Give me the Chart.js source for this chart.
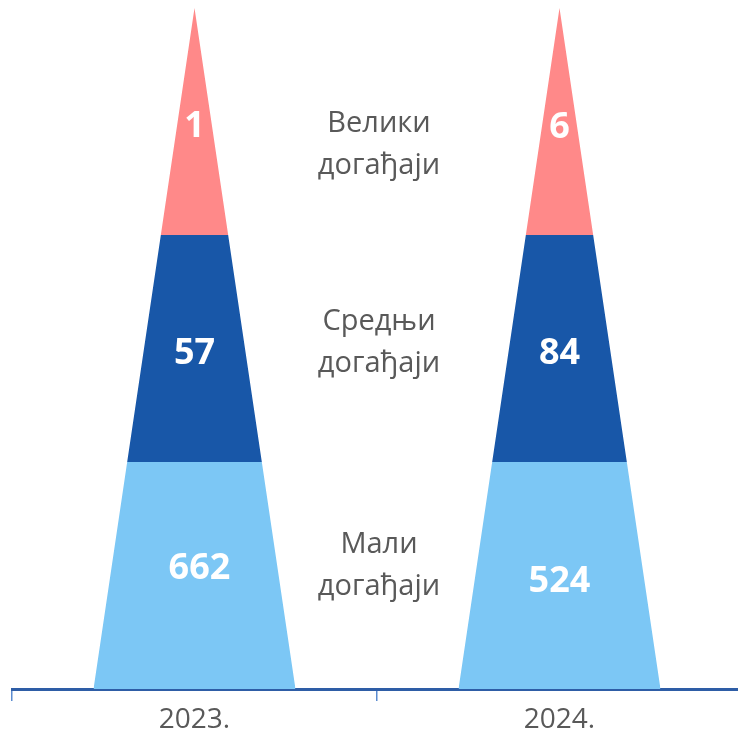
<!DOCTYPE html>
<html>
<head>
<meta charset="utf-8">
<script src="https://cdn.jsdelivr.net/npm/chart.js@4.4.1/dist/chart.umd.min.js"></script>
<style>
  html, body { margin: 0; padding: 0; background: #ffffff; overflow: hidden; }
  #wrap { width: 744px; height: 737px; position: relative; }
</style>
</head>
<body>
<div id="wrap"><canvas id="c"></canvas></div>
<script>
// ---- data ----
const years = ['2023.', '2024.'];
const tierNames = [['Мали', 'догађаји'], ['Средњи', 'догађаји'], ['Велики', 'догађаји']]; // bottom -> top
const smallEvents = [662, 524];
const mediumEvents = [57, 84];
const largeEvents = [1, 6];
// every tier of the pyramid is drawn with the same height
const tierHeight = [1, 1];

// ---- styles ----
const tierColors = ['#7CC7F5', '#1857A8', '#FF8989'];
const valueNudge = [[[5, -10], [0, 3]], [[0, 2], [0, 2]], [[0, 2], [0, 3]]]; // [tier][year] [dx, dy]
const nameOffset = [-23, -19, 10]; // baseline of first line relative to tier center
const nameLineGap = 42;

const counts = [smallEvents, mediumEvents, largeEvents];

const pyramidClip = {
  id: 'pyramidClip',
  beforeDatasetsDraw(chart) {
    const ctx = chart.ctx;
    const ys = chart.scales.y;
    const first = chart.getDatasetMeta(0).data;
    const last = chart.getDatasetMeta(chart.data.datasets.length - 1).data;
    ctx.save();
    ctx.beginPath();
    first.forEach((el, i) => {
      const p = el.getProps(['x', 'width'], true);
      const top = last[i].getProps(['y'], true).y;
      const base = ys.getPixelForValue(0);
      ctx.moveTo(p.x - p.width / 2, base);
      ctx.lineTo(p.x, top);
      ctx.lineTo(p.x + p.width / 2, base);
      ctx.closePath();
    });
    ctx.clip();
  },
  afterDatasetsDraw(chart) {
    const ctx = chart.ctx;
    ctx.restore();
    // value labels
    ctx.save();
    ctx.fillStyle = '#ffffff';
    ctx.font = 'bold 36px "Open Sans"';
    ctx.textAlign = 'center';
    ctx.textBaseline = 'alphabetic';
    chart.data.datasets.forEach((ds, t) => {
      chart.getDatasetMeta(t).data.forEach((el, i) => {
        const p = el.getProps(['x', 'y', 'base'], true);
        const n = valueNudge[t][i];
        const cy = (p.y + p.base) / 2 + n[1];
        ctx.fillText(String(ds.counts[i]), p.x + n[0], cy + 13);
      });
    });
    ctx.restore();
  },
  afterDraw(chart) {
    const ctx = chart.ctx;
    const xs = chart.scales.x, ys = chart.scales.y;
    const midX = (xs.getPixelForValue(0) + xs.getPixelForValue(1)) / 2 + 2;
    ctx.save();
    ctx.fillStyle = '#595959';
    ctx.font = '29px "Open Sans"';
    ctx.textAlign = 'center';
    ctx.textBaseline = 'alphabetic';
    tierNames.forEach((lines, t) => {
      const y0 = ys.getPixelForValue(t + 0.5) + nameOffset[t];
      lines.forEach((ln, k) => ctx.fillText(ln, midX, y0 + k * nameLineGap));
    });
    ctx.restore();
  }
};

new Chart(document.getElementById('c'), {
  type: 'bar',
  data: {
    labels: years,
    datasets: tierNames.map((nm, t) => ({
      label: nm.join(' '),
      data: tierHeight,
      counts: counts[t],
      backgroundColor: tierColors[t],
      borderWidth: 0,
      barPercentage: 0.5534,
      categoryPercentage: 1
    }))
  },
  options: {
    responsive: true,
    maintainAspectRatio: false,
    animation: false,
    layout: { padding: { left: 12, right: 2, top: 8, bottom: 0 } },
    plugins: { legend: { display: false }, tooltip: { enabled: false } },
    scales: {
      x: {
        stacked: true,
        offset: true,
        grid: { offset: true, drawOnChartArea: false, drawTicks: true, tickLength: 12, color: '#5B8BD0', lineWidth: 1.5 },
        border: { display: true, color: '#2E5DA6', width: 3 },
        ticks: { color: '#595959', font: { family: 'Open Sans', size: 28 }, padding: 2 },
        afterFit(s) { s.height = 48; }
      },
      y: { stacked: true, display: false, min: 0, max: 3 }
    }
  },
  plugins: [pyramidClip]
});
</script>
</body>
</html>
